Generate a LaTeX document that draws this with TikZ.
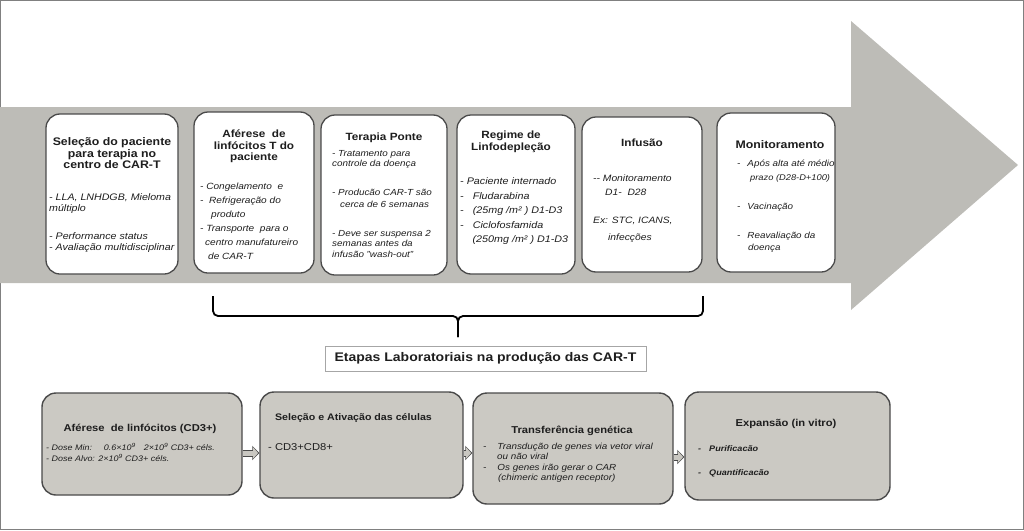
\documentclass[tikz,border=0pt]{standalone}
\usepackage{fontspec}
\setmainfont{Liberation Sans}[FakeStretch=1.12]
\usetikzlibrary{arrows.meta}

\definecolor{bandgray}{HTML}{BDBCB7}
\definecolor{labgray}{HTML}{CBC9C3}
\definecolor{boxline}{HTML}{4A4A4A}
\definecolor{txtcol}{HTML}{1E1E1E}
\definecolor{arrfill}{HTML}{C9C7C1}

\tikzset{
  stage/.style={draw=boxline, line width=1.3pt, rounded corners=14pt, fill=white, inner sep=0pt},
  lab/.style={stage, fill=labgray, line width=1.4pt},
  ttl/.style={font=\bfseries\fontsize{#1}{11.5}\selectfont, align=center, inner sep=0pt, anchor=north, text=txtcol},
  ttl/.default=10.5,
  txt/.style 2 args={font=\itshape\fontsize{#1}{#2}\selectfont, align=left, inner sep=0pt, anchor=north west, text=txtcol},
  blk/.style={draw=arrfill, line width=5pt, -{Triangle[width=11pt,length=5pt]}, shorten >=1.2pt,
    preaction={draw=boxline, line width=7pt, -{Triangle[width=14pt,length=7pt]}, shorten >=0pt}},
}

\begin{document}
\begin{tikzpicture}[x=1pt, y=-1pt]
  \useasboundingbox (0,0) rectangle (1024,530);
  \draw[gray, line width=1pt] (0.5,0.5) rectangle (1023.5,529.5);

  % big arrow behind the stages
  \fill[bandgray] (0,107) -- (851,107) -- (851,21) -- (1018,165) -- (851,310) -- (851,283) -- (0,283) -- cycle;

  % clinical stages
  \node[stage, minimum width=132, minimum height=160] (selecao) at (112,194) {};
  \node[stage, minimum width=120, minimum height=161] (aferese) at (254,192.5) {};
  \node[stage, minimum width=126, minimum height=160] (ponte) at (384,195) {};
  \node[stage, minimum width=118, minimum height=159] (linfo) at (516,194.5) {};
  \node[stage, minimum width=120, minimum height=155] (infusao) at (642,194.5) {};
  \node[stage, minimum width=118, minimum height=159] (monit) at (776,192.5) {};

  \node[ttl=11] (selecaoT) at (112,137.7) {\strut Seleção do paciente\\para terapia no\\centro de CAR-T};
  \node[txt={9.5}{11}] (selecaoB) at (49,192.7) {\strut - LLA, LNHDGB, Mieloma\\múltiplo\\[17pt]- Performance status\\- Avaliação multidisciplinar};

  \node[ttl] (afereseT) at (254,129.7) {\strut Aférese~ de\\linfócitos T do\\paciente};
  \node[txt={9}{14}] (afereseB) at (200,179.4) {\strut - Congelamento~ e\\-~ Refrigeração do\\\hspace*{11pt}produto\\- Transporte~ para o\\\hspace*{5pt}centro manufatureiro\\\hspace*{8pt}de CAR-T};

  \node[ttl] (ponteT) at (384,132.7) {\strut Terapia Ponte};
  \node[txt={8.8}{10.5}] (ponteB) at (332,148.9) {\strut - Tratamento para\\controle da doença\\[18pt]- Producão CAR-T são\\[2pt]\hspace*{8pt}cerca de 6 semanas\\[18pt]- Deve ser suspensa 2\\semanas antes da\\infusão "wash-out"};

  \node[ttl] (linfoT) at (511,130.7) {\strut Regime de\\Linfodepleção};
  \node[txt={9.6}{14.5}] (linfoB) at (460,174.6) {\strut - Paciente internado\\-\hspace{9pt}Fludarabina\\-\hspace{9pt}(25mg /m² ) D1-D3\\-\hspace{9pt}Ciclofosfamida\\\hspace*{12.4pt}(250mg /m² ) D1-D3};

  \node[ttl] (infusaoT) at (642,138.7) {\strut Infusão};
  \node[txt={9.2}{14}] (infusaoB) at (593,171.5) {\strut -{}- Monitoramento\\\hspace*{12pt}D1-~ D28\\[14pt]Ex: STC, ICANS,\\[3pt]\hspace*{15pt}infecções};

  \node[ttl=11] (monitT) at (780,140.7) {\strut Monitoramento};
  \node[txt={8.8}{12}] (monitB) at (737,157.8) {\strut -\hspace{7pt}Após alta até médio\\[2pt]\hspace*{13pt}{\fontsize{8.3}{12}\selectfont prazo (D28-D+100)}\\[17pt]-\hspace{7pt}Vacinação\\[17pt]-\hspace{7pt}Reavaliação da\\\hspace*{11pt}doença};

  % brace over the laboratory steps
  \coordinate (braceL) at (213,296);
  \coordinate (braceR) at (703,296);
  \coordinate (braceM) at (458,316);
  \coordinate (braceTip) at (458,337);
  \draw[line width=1.8pt, rounded corners=5pt] (braceL) -- (braceL |- braceM) -- (braceM) -- (braceTip);
  \draw[line width=1.8pt, rounded corners=5pt] (braceR) -- (braceR |- braceM) -- (braceM) -- (braceTip);

  \node[draw=gray!70, line width=0.8pt, minimum width=321, minimum height=25, inner sep=0pt,
        font=\bfseries\fontsize{12.5}{14}\selectfont, text=txtcol] (etapas) at (485.5,358.5) {Etapas Laboratoriais na produção das CAR-T};

  % laboratory steps
  \node[lab, minimum width=200, minimum height=102] (labAf) at (142,444) {};
  \node[lab, minimum width=203, minimum height=106] (labSel) at (361.5,445) {};
  \node[lab, minimum width=200, minimum height=111] (labTr) at (573,448.5) {};
  \node[lab, minimum width=205, minimum height=108] (labExp) at (787.5,446) {};

  \node[ttl=10] (labAfT) at (140,423.6) {\strut Aférese~ de linfócitos (CD3+)};
  \node[txt={8}{10}] (labAfB) at (46,443.5) {\strut - Dose Min:\hspace{12pt}0.6×10\textsuperscript{9}\hspace{8pt}2×10\textsuperscript{9} CD3+ céls.\\- Dose Alvo: 2×10\textsuperscript{9} CD3+ céls.};

  \node[ttl=9.5] (labSelT) at (353.5,412.4) {\strut Seleção e Ativação das células};
  \node[txt={10}{12}, font=\upshape\fontsize{10}{12}\selectfont] (labSelB) at (268,442.2) {\strut - CD3+CD8+};

  \node[ttl=10] (labTrT) at (572,425.6) {\strut Transferência genética};
  \node[txt={8.8}{10.3}] (labTrB) at (483,442) {\strut -\hspace{11pt}Transdução de genes via vetor viral\\\hspace*{14pt}ou não viral\\-\hspace{11pt}Os genes irão gerar o CAR\\\hspace*{15pt}(chimeric antigen receptor)};

  \node[ttl=10] (labExpT) at (786,418.6) {\strut Expansão (in vitro)};
  \node[txt={8.1}{10}, font=\bfseries\itshape\fontsize{8.1}{10}\selectfont] (labExpB) at (698,443.9) {\strut -\hspace{8pt}Purificacão\\[14pt]-\hspace{8pt}Quantificacão};

  \draw[blk] ([yshift=-9pt]labAf.east) -- ([yshift=-8pt]labSel.west);
  \draw[blk] ([yshift=-8pt]labSel.east) -- ([yshift=-4.5pt]labTr.west);
  \draw[blk] ([yshift=-8.5pt]labTr.east) -- ([yshift=-11pt]labExp.west);
\end{tikzpicture}
\end{document}
